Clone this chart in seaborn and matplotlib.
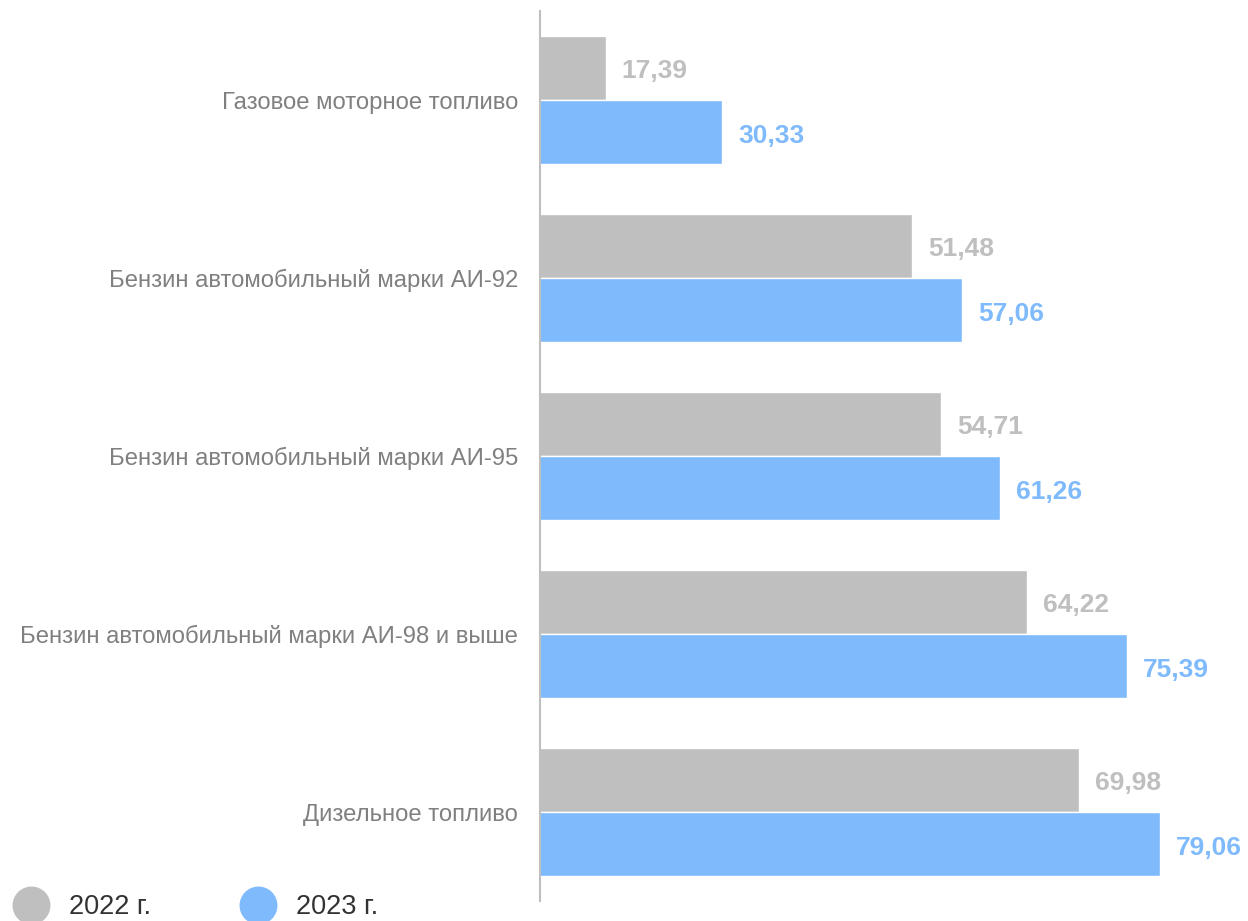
import pandas as pd
import matplotlib.pyplot as plt
import seaborn as sns
from matplotlib.lines import Line2D

categories = ['Газовое моторное топливо',
              'Бензин автомобильный марки АИ-92',
              'Бензин автомобильный марки АИ-95',
              'Бензин автомобильный марки АИ-98 и выше',
              'Дизельное топливо']
values_2022 = [17.39, 51.48, 54.71, 64.22, 69.98]
values_2023 = [30.33, 57.06, 61.26, 75.39, 79.06]
years = ['2022 г.', '2023 г.']
colors = ['#BFBFBF', '#7FBAFC']

df = pd.DataFrame({
    'category': categories * 2,
    'value': values_2022 + values_2023,
    'year': [years[0]] * len(categories) + [years[1]] * len(categories),
})

sns.set_theme(style='white')
plt.rcParams['font.family'] = ['Liberation Sans', 'DejaVu Sans']

fig = plt.figure(figsize=(12.48, 9.21), dpi=100)
ax = fig.add_axes([540 / 1248, 20 / 921, 708 / 1248, 890 / 921])
sns.barplot(data=df, y='category', x='value', hue='year', palette=colors,
            width=0.72, orient='h', saturation=1, legend=False, ax=ax)

# value labels in russian decimal format, nudged a bit lower like the original
for cont, vals, col in zip(ax.containers, [values_2022, values_2023], colors):
    texts = ax.bar_label(cont, labels=[f'{v:.2f}'.replace('.', ',') for v in vals],
                         padding=11.5, fontsize=19, fontweight='bold', color=col)
    for t in texts:
        t.xyann = (t.xyann[0], -2.5)

ax.set_xlim(10.1, 88.8)
ax.set_xlabel('')
ax.set_ylabel('')
ax.set_xticks([])
ax.tick_params(axis='y', length=0, pad=15.8, labelsize=17.2, labelcolor='#808080')
for s in ['top', 'right', 'bottom']:
    ax.spines[s].set_visible(False)
ax.spines['left'].set_color('#BFBFBF')
ax.spines['left'].set_linewidth(1.5)

handles = [Line2D([], [], marker='o', linestyle='', markersize=26.3,
                  markerfacecolor=c, markeredgecolor=c) for c in colors]
fig.legend(handles, years, loc='center left', bbox_to_anchor=(12 / 1248, 14 / 921),
           ncol=2, frameon=False, fontsize=19.5, labelcolor='#333333',
           handlelength=1.4, handletextpad=0.71, columnspacing=3.25, borderpad=0,
           borderaxespad=0)

fig.savefig('out.png', dpi=100)
